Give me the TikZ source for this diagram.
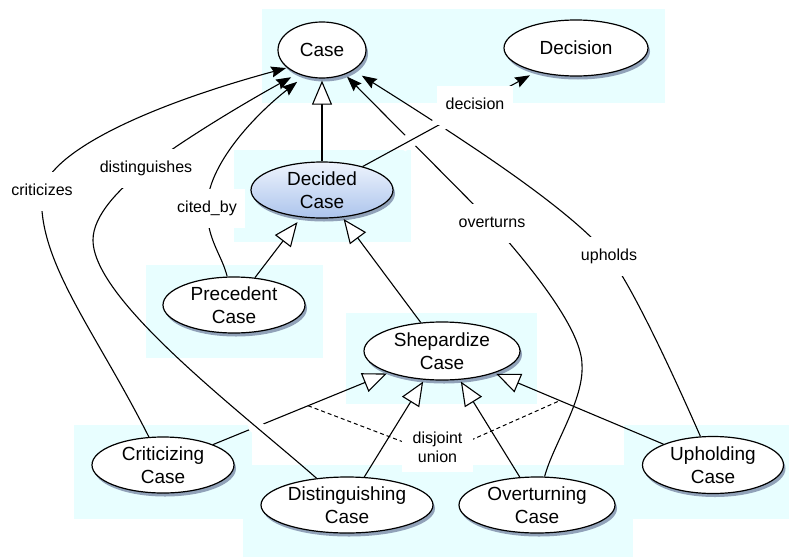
\documentclass[tikz,border=0pt]{standalone}
\usepackage{fontspec}
\setmainfont{Liberation Sans}
\usetikzlibrary{shapes.geometric,arrows.meta,shadows,calc}
\definecolor{bgcyan}{RGB}{232,254,255}
\definecolor{shadowc}{RGB}{25,35,90}
\definecolor{dtop}{RGB}{238,244,253}
\definecolor{dbot}{RGB}{172,196,236}
\begin{document}
\begin{tikzpicture}[x=1pt,y=-1pt,
  cls/.style={ellipse, draw, line width=1.2pt, fill=white, inner sep=0pt, align=center,
    font=\fontsize{19}{23}\selectfont,
    drop shadow={shadow xshift=2pt, shadow yshift=-3.5pt, opacity=0.42, fill=shadowc}},
  lbl/.style={fill=white, inner xsep=8.5pt, inner ysep=11.5pt, text height=12pt, text depth=4pt,
    font=\fontsize{16}{19}\selectfont},
  lbltwo/.style={fill=white, inner xsep=10.5pt, inner ysep=10pt, align=center,
    font=\fontsize{16}{19}\selectfont},
  gen/.style={line width=1.1pt, shorten >=2pt, -{Triangle[length=24pt, width=20pt, fill=white]}},
  assoc/.style={line width=1.1pt, -{Stealth[length=15pt, width=11pt, inset=2pt]}},
  disj/.style={line width=1pt, dash pattern=on 4pt off 3pt},
  halo/.style={draw=white, line width=14pt},
  bgbox/.style={fill=bgcyan}
]
\useasboundingbox (0,0) rectangle (789,557);
% background panels
\fill[bgbox] (262,9) rectangle (665,103);
\fill[bgbox] (234,150) rectangle (411,242);
\fill[bgbox] (146,265) rectangle (323,358);
\fill[bgbox] (346,313) rectangle (537,404);
\fill[bgbox] (74,425) rectangle (252,519);
\fill[bgbox] (243,465) rectangle (633,557);
\fill[bgbox] (624,425) rectangle (789,519);
% classes
\node[cls, minimum width=88pt, minimum height=56pt] (case) at (322,50) {Case};
\node[cls, minimum width=144pt, minimum height=56pt] (decision) at (576,48) {Decision};
\node[cls, minimum width=142pt, minimum height=56pt, top color=dtop, bottom color=dbot] (decided) at (322,190) {Decided\\Case};
\node[cls, minimum width=142pt, minimum height=56pt] (prec) at (234,305) {Precedent\\Case};
\node[cls, minimum width=156pt, minimum height=58pt] (shep) at (442,351) {Shepardize\\Case};
\node[cls, minimum width=142pt, minimum height=56pt] (crit) at (163,465) {Criticizing\\Case};
\node[cls, minimum width=172pt, minimum height=56pt] (dist) at (347,505) {Distinguishing\\Case};
\node[cls, minimum width=156pt, minimum height=56pt] (over) at (537,505) {Overturning\\Case};
\node[cls, minimum width=141pt, minimum height=57pt] (uphold) at (713,465) {Upholding\\Case};
% label positions
\coordinate (lcrit) at (42,191);
\coordinate (ldist) at (146,168);
\coordinate (lcited) at (207,208);
\coordinate (ldec) at (475,105.5);
\coordinate (lover) at (492,223);
\coordinate (luph) at (609,256);
\coordinate (ldisj) at (437.5,447);
\coordinate (dmid) at (437.5,455);
\coordinate (dl) at ($(crit)!0.52!(shep)$);
\coordinate (dr) at ($(uphold)!0.565!(shep)$);
% generalizations
\draw[gen] (decided) -- (case);
\draw[gen, shorten >=6pt] (prec) -- (decided);
\draw[gen] (shep) -- (decided);
\draw[gen] (crit) -- (shep);
\draw[gen] (dist) -- (shep);
\draw[gen] (over) -- (shep);
\draw[gen] (uphold) -- (shep);
\draw[disj] (dl) -- (dmid) -- (dr);
% associations (under)
\draw[assoc, shorten >=1pt] (crit) .. controls (95,330) and (36,260) .. (lcrit) .. controls (52,150) and (150,105) .. (case.207);
\draw[assoc, shorten >=9pt] (prec) .. controls (222,255) and (207,240) .. (lcited) .. controls (207,165) and (255,115) .. (case.236);
\draw[assoc, shorten >=3pt] (over) .. controls (553,445) and (584,400) .. (582,365) .. controls (582,330) and (532,268) .. (lover) -- (case.313);
\draw[assoc, shorten >=10pt] (uphold) .. controls (680,390) and (635,290) .. (luph) .. controls (570,210) and (480,150) .. (case.327);
% crossing gaps
\begin{scope}
  \clip (411,141) circle (12) (438,126) circle (12);
  \draw[halo] (decided.30) -- (decision.211);
\end{scope}
\begin{scope}
  \clip (260,425) circle (12);
  \draw[halo] (dist) .. controls (240,411) and (93,300) .. (93,240);
\end{scope}
% associations (over)
\draw[assoc, shorten >=7pt] (dist) .. controls (240,411) and (93,300) .. (93,240) .. controls (93,215) and (120,188) .. (ldist) .. controls (190,135) and (250,100) .. (case.224);
\draw[assoc, shorten >=7pt] (decided.30) -- (decision.211);
% labels
\node[lbl] (tcrit) at (lcrit) {criticizes};
\node[lbl] (tdist) at (ldist) {distinguishes};
\node[lbl] (tcited) at (lcited) {cited\_by};
\node[lbl] (tdec) at (ldec) {decision};
\node[lbl] (tover) at (lover) {overturns};
\node[lbl] (tuph) at (luph) {upholds};
\node[lbltwo] (tdisj) at (ldisj) {disjoint\\union};
\end{tikzpicture}
\end{document}
